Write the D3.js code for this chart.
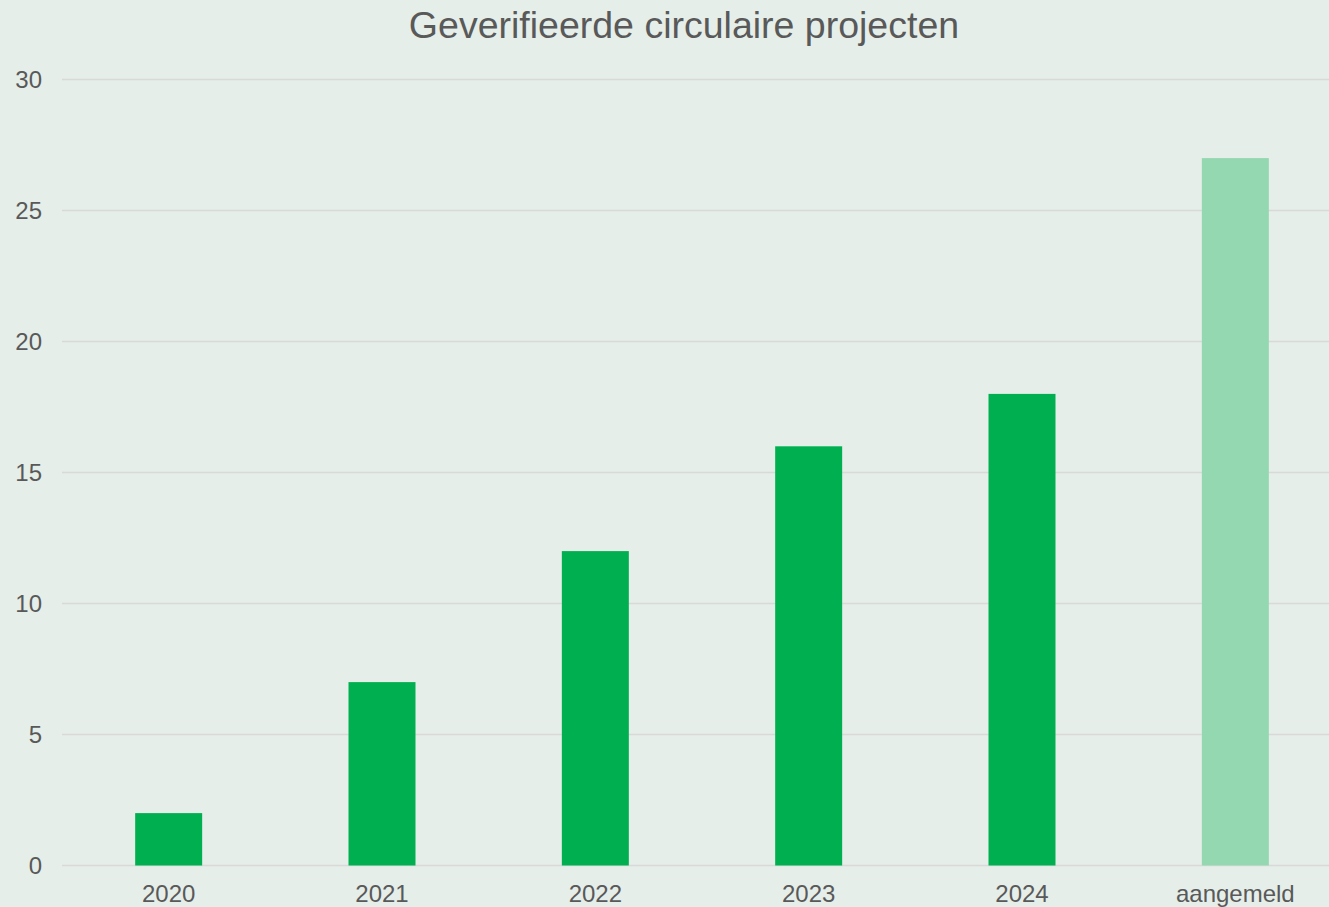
<!DOCTYPE html>
<html>
<head>
<meta charset="utf-8">
<script src="https://cdn.jsdelivr.net/npm/d3@7"></script>
<style>
  body { margin: 0; background: #e5eee9; }
  svg { display: block; font-family: "Liberation Sans", Arial, sans-serif; }
</style>
</head>
<body>
<script>
var categories = ["2020", "2021", "2022", "2023", "2024", "aangemeld"];
var values = [2, 7, 12, 16, 18, 27];
var yTicks = [0, 5, 10, 15, 20, 25, 30];
var title = "Geverifieerde circulaire projecten";

var w = 1329;
var h = 907;
var svg = d3.select("body")
            .append("svg")
            .attr("width", w)
            .attr("height", h);

svg.append("rect")
   .attr("width", w)
   .attr("height", h)
   .attr("fill", "#e5eee9");

var x = d3.scaleBand()
          .domain(categories)
          .range([62, 1342])
          .paddingInner(0.686)
          .paddingOuter(0.343);

var y = d3.scaleLinear()
          .domain([0, 30])
          .range([865.5, 79.5]);

// gridlines
svg.selectAll("line.grid")
   .data(yTicks)
   .enter()
   .append("line")
   .attr("class", "grid")
   .attr("x1", 62)
   .attr("x2", w)
   .attr("y1", function(d) { return y(d); })
   .attr("y2", function(d) { return y(d); })
   .attr("stroke", "#d9d9d9")
   .attr("stroke-width", 1.5);

// y labels
svg.selectAll("text.ytick")
   .data(yTicks)
   .enter()
   .append("text")
   .attr("class", "ytick")
   .text(function(d) { return d; })
   .attr("x", 42)
   .attr("y", function(d) { return y(d) + 8.5; })
   .attr("text-anchor", "end")
   .attr("font-size", "24px")
   .attr("fill", "#595959");

// bars
svg.selectAll("rect.bar")
   .data(values)
   .enter()
   .append("rect")
   .attr("class", "bar")
   .attr("x", function(d, i) { return x(categories[i]); })
   .attr("y", function(d) { return y(d); })
   .attr("width", x.bandwidth())
   .attr("height", function(d) { return y(0) - y(d); })
   .attr("fill", function(d, i) { return i === 5 ? "#93d8b0" : "#00b050"; });

// x labels
svg.selectAll("text.xtick")
   .data(categories)
   .enter()
   .append("text")
   .attr("class", "xtick")
   .text(function(d) { return d; })
   .attr("x", function(d) { return x(d) + x.bandwidth() / 2; })
   .attr("y", 902)
   .attr("text-anchor", "middle")
   .attr("font-size", "24px")
   .attr("fill", "#595959");

svg.append("text")
   .text(title)
   .attr("x", 684)
   .attr("y", 38)
   .attr("text-anchor", "middle")
   .attr("font-size", "37.5px")
   .attr("fill", "#595959");
</script>
</body>
</html>
